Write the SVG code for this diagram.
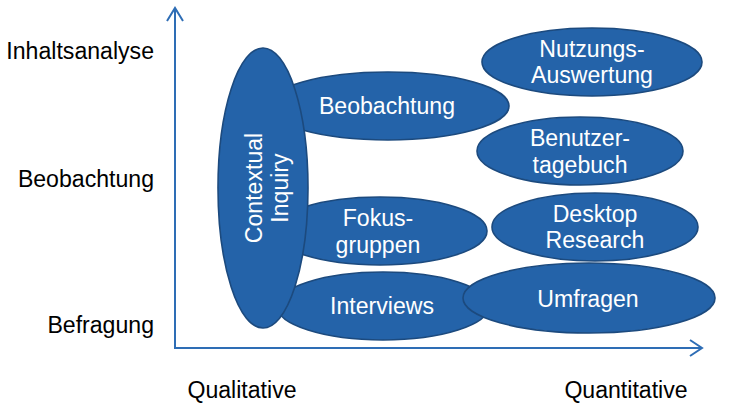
<svg xmlns="http://www.w3.org/2000/svg" width="731" height="406" viewBox="0 0 731 406">
<style>
.n{fill:#2463A9;stroke:#1C4A7E;stroke-width:1.6}
.t{font-family:"Liberation Sans",Arial,sans-serif;font-size:23.1px;fill:#ffffff;text-anchor:middle}
.l{font-family:"Liberation Sans",Arial,sans-serif;font-size:23.1px;fill:#000000}
.ax{stroke:#2E6DB5;stroke-width:2;fill:none}
</style>
<rect width="731" height="406" fill="#ffffff"/>
<g id="axes" class="connectors">
<line class="ax" x1="175" y1="9" x2="175" y2="348"/>
<polyline class="ax" points="167,21 175,8 183,21"/>
<line class="ax" x1="174" y1="348" x2="701" y2="348"/>
<polyline class="ax" points="690,340 702,348 690,356"/>
</g>
<g id="labels">
<text class="l" x="154" y="59" text-anchor="end">Inhaltsanalyse</text>
<text class="l" x="154" y="187" text-anchor="end">Beobachtung</text>
<text class="l" x="154" y="333" text-anchor="end">Befragung</text>
<text class="l" x="242" y="398" text-anchor="middle">Qualitative</text>
<text class="l" x="626" y="398" text-anchor="middle">Quantitative</text>
</g>
<g id="beobachtung">
<ellipse class="n" cx="388" cy="106" rx="121" ry="34"/>
<text class="t" x="387" y="114">Beobachtung</text>
</g>
<g id="fokusgruppen">
<ellipse class="n" cx="380" cy="231" rx="107" ry="34"/>
<text class="t" x="378" y="226">Fokus-</text>
<text class="t" x="378" y="253">gruppen</text>
</g>
<g id="interviews">
<ellipse class="n" cx="383" cy="306" rx="106" ry="34"/>
<text class="t" x="382" y="314">Interviews</text>
</g>
<g id="contextual-inquiry">
<ellipse class="n" cx="263" cy="188" rx="45" ry="140"/>
<text class="t" transform="translate(262,188) rotate(-90)" x="0" y="0">Contextual</text>
<text class="t" transform="translate(288,188) rotate(-90)" x="0" y="0">Inquiry</text>
</g>
<g id="nutzungsauswertung">
<ellipse class="n" cx="592" cy="62" rx="110" ry="34"/>
<text class="t" x="592" y="57">Nutzungs-</text>
<text class="t" x="592" y="83">Auswertung</text>
</g>
<g id="benutzertagebuch">
<ellipse class="n" cx="580" cy="151" rx="103" ry="34"/>
<text class="t" x="580" y="146">Benutzer-</text>
<text class="t" x="580" y="173">tagebuch</text>
</g>
<g id="desktop-research">
<ellipse class="n" cx="595" cy="227" rx="103" ry="34"/>
<text class="t" x="595" y="222">Desktop</text>
<text class="t" x="595" y="248">Research</text>
</g>
<g id="umfragen">
<ellipse class="n" cx="589" cy="298" rx="126" ry="35"/>
<text class="t" x="588" y="307">Umfragen</text>
</g>
</svg>
